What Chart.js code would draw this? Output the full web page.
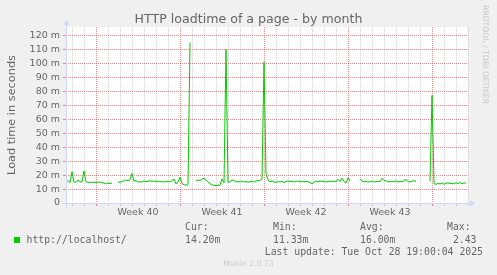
<!DOCTYPE html>
<html lang="en">
<head>
<meta charset="utf-8">
<title>HTTP loadtime of a page - by month</title>
<script src="https://cdn.jsdelivr.net/npm/chart.js@4.4.0/dist/chart.umd.min.js"></script>
<style>
    html, body { margin: 0; padding: 0; background: #F0F0F0; }
    #wrap { position: relative; width: 497px; height: 275px; overflow: hidden;
            font-family: "DejaVu Sans", sans-serif; color: #666; }
    #graph { position: absolute; left: 0; top: 0; }
    .txt { position: absolute; white-space: pre; }
    #title { left: 0; width: 497px; top: 11px; text-align: center; font-size: 12.6px; line-height: 16px; }
    .mono { font-family: "DejaVu Sans Mono", monospace; font-size: 9.8px; line-height: 12px; }
    #swatch { position: absolute; left: 14px; top: 237px; width: 6px; height: 6px; background: #00CC00; }
    #updated { right: 14px; top: 245.5px; }
    #munin { left: 0; width: 497px; text-align: center; top: 259px; font-size: 7.7px; line-height: 10px; color: #c8c8c8; }
    #rrd { left: 480px; top: 5px; writing-mode: vertical-rl; font-size: 7.7px; line-height: 10px; color: #c8c8c8; }
</style>
</head>
<body>
<div id="wrap">
    <canvas id="graph" width="497" height="275"></canvas>
    <div class="txt" id="title"></div>
    <div id="swatch"></div>
    <div id="legend"></div>
    <div class="txt mono" id="updated"></div>
    <div class="txt" id="munin"></div>
    <div class="txt" id="rrd"></div>
</div>

<script>
    /* data (values in milliseconds, one sample every 4 hours) */
    const graphTitle = "HTTP loadtime of a page - by month";
    const yTitle = "Load time in seconds";
    const seriesName = "http://localhost/";
    const startDay = -2.5;      // left edge, in days from the start of week 40
    const endDay = 31;
    const sampleHours = 4;
    const weekStarts = [0, 7, 14, 21, 28];
    const weekLabels = ["Week 40", "Week 41", "Week 42", "Week 43"];
    const yMax = 126;
    const loadtime = [
        15.0, 16.0, 14.6, 22.4, 15.0, 14.8,
        16.5, 15.2, 15.0, 23.0, 15.2, 14.8,
        14.7, 15.0, 14.6, 14.9, 14.8, 15.1,
        14.5, 14.2, 13.6, 14.4, 13.8, 14.5,
        null, null, 15.0, 14.8, 15.6, 15.8,
        16.5, 16.0, 16.8, 21.2, 15.5, 16.2,
        14.8, 15.4, 15.0, 15.8, 15.2, 15.5,
        16.0, 15.4, 15.8, 15.2, 15.6, 15.0,
        15.4, 15.0, 15.3, 15.6, 15.0, 16.2,
        17.2, 13.6, 15.2, 18.5, 14.0, 13.0,
        12.8, 13.2, 115, null, null, 16.0,
        16.5, 16.0, 17.2, 17.7, 16.4, 15.0,
        13.8, 13.0, 12.6, 12.5, 12.6, 12.8,
        17.2, 14.5, 110, 14.8, 15.2, 16.5,
        16.0, 15.0, 15.4, 15.2, 15.6, 15.0,
        15.4, 14.8, 15.2, 15.6, 15.0, 15.8,
        16.0, 16.2, 17.0, 101, 21.2, 16.5,
        15.2, 16.0, 15.0, 14.8, 15.4, 15.0,
        15.6, 14.6, 15.4, 15.8, 15.2, 15.6,
        15.0, 15.8, 15.4, 15.2, 15.6, 15.0,
        15.4, 15.2, 14.8, 13.6, 15.0, 15.6,
        15.2, 15.8, 15.4, 15.6, 15.0, 15.4,
        15.6, 15.2, 15.8, 15.0, 17.0, 15.4,
        17.8, 15.4, 14.2, 18.0, 15.6, null,
        null, null, null, 17.5, 15.6, 15.2,
        15.4, 15.0, 15.2, 15.6, 15.0, 15.3,
        15.6, 15.2, 17.7, 16.2, 15.8, 15.4,
        15.0, 15.6, 15.2, 15.8, 15.0, 15.4,
        15.2, 16.2, 16.8, 15.4, 15.0, 15.6,
        16.0, 15.2, null, null, null, null,
        null, null, 15.4, 77, 14.0, 13.2,
        14.2, 13.6, 14.4, 13.4, 14.0, 14.6,
        13.8, 14.2, 13.6, 14.4, 14.0, 14.6,
        13.8, 14.4, 14.2, null
    ];
    const statNames = ["Cur:", "Min:", "Avg:", "Max:"];
    const statValues = ["14.20m", "11.33m", "16.00m", " 2.43"];
    const statX = [185, 273, 360, 447];
    const lastUpdate = "Last update: Tue Oct 28 19:00:04 2025";
    const watermark = "Munin 2.0.73";

    const GRID = "rgba(150,150,150,0.4)";
    const MGRID = "rgba(220,60,60,0.6)";
    const AXIS = "#CFD6F8";

    document.getElementById("title").textContent = graphTitle;
    document.getElementById("updated").textContent = lastUpdate;
    document.getElementById("munin").textContent = watermark;
    document.getElementById("rrd").textContent = "RRDTOOL / TOBI OETIKER";

    // legend rows below the graph
    const legend = document.getElementById("legend");
    function addText(text, x, y){
        const d = document.createElement("div");
        d.className = "txt mono";
        d.style.left = x + "px";
        d.style.top = y + "px";
        d.textContent = text;
        legend.appendChild(d);
    }
    addText(seriesName, 26.5, 233.5);
    statNames.forEach((n, i) => {
        addText(n, statX[i], 221);
        addText(statValues[i], statX[i], 233.5);
    });

    const points = loadtime.map((v, i) => ({x: startDay + i * sampleHours / 24, y: v}));

    /* white canvas, blue axes with arrows like rrdtool */
    const rrdFrame = {
        id: "rrdFrame",
        beforeDraw(chart){
            const {ctx, chartArea: a} = chart;
            ctx.save();
            ctx.fillStyle = "#FFFFFF";
            ctx.fillRect(a.left, a.top, a.right - a.left, a.bottom - a.top);
            ctx.restore();
        },
        afterDraw(chart){
            const {ctx, chartArea: a} = chart;
            const l = Math.round(a.left) + 0.5, b = Math.round(a.bottom) + 0.5;
            ctx.save();
            ctx.strokeStyle = AXIS;
            ctx.fillStyle = AXIS;
            ctx.lineWidth = 1;
            ctx.beginPath();
            ctx.moveTo(l - 4, b); ctx.lineTo(a.right + 3, b);
            ctx.moveTo(l, b + 4); ctx.lineTo(l, a.top - 3);
            ctx.stroke();
            ctx.beginPath();
            ctx.moveTo(a.right + 2, b - 3); ctx.lineTo(a.right + 7, b); ctx.lineTo(a.right + 2, b + 3);
            ctx.fill();
            ctx.beginPath();
            ctx.moveTo(l - 3, a.top - 2); ctx.lineTo(l, a.top - 7); ctx.lineTo(l + 3, a.top - 2);
            ctx.fill();
            ctx.restore();
        }
    };

    Chart.defaults.font.family = "'DejaVu Sans', sans-serif";
    Chart.defaults.color = "#666";

    let ctx = document.getElementById("graph").getContext("2d");
    let loadChart = new Chart(ctx, {
        type: "line",
        data: {
            datasets: [{
                label: seriesName,
                data: points,
                borderColor: "#00CC00",
                borderWidth: 1,
                pointRadius: 0,
                tension: 0,
                spanGaps: false,
                fill: false
            }]
        },
        options: {
            responsive: false,
            animation: false,
            devicePixelRatio: 1,
            layout: { padding: { left: 0, top: 27, right: 29, bottom: 0 } },
            plugins: { legend: { display: false }, tooltip: { enabled: false } },
            scales: {
                x: {
                    type: "linear",
                    min: startDay,
                    max: endDay,
                    afterBuildTicks(axis){
                        const t = [];
                        for (let d = Math.ceil(startDay); d <= endDay; d++) t.push({value: d});
                        weekLabels.forEach((w, k) => t.push({value: weekStarts[k] + 3.5}));
                        axis.ticks = t.sort((p, q) => p.value - q.value);
                    },
                    afterFit(scale){ scale.height = 72; },
                    ticks: {
                        autoSkip: false,
                        maxRotation: 0,
                        padding: 1,
                        font: { size: 9.5 },
                        callback(v){
                            const k = weekStarts.indexOf(v - 3.5);
                            return k >= 0 && weekLabels[k] ? weekLabels[k] : "";
                        }
                    },
                    grid: {
                        lineWidth: 1,
                        tickLength: 3,
                        color(c){
                            const v = c.tick.value;
                            if (!Number.isInteger(v)) return "rgba(0,0,0,0)";
                            return weekStarts.includes(v) ? MGRID : GRID;
                        }
                    },
                    border: { display: false, dash: [1, 1] }
                },
                y: {
                    min: 0,
                    max: yMax,
                    afterBuildTicks(axis){
                        const t = [];
                        for (let v = 0; v <= yMax; v += 5) t.push({value: v});
                        axis.ticks = t;
                    },
                    afterFit(scale){ scale.width = 66; },
                    ticks: {
                        padding: 3,
                        font: { size: 9.5 },
                        callback(v){
                            if (v % 10 !== 0) return "";
                            return v === 0 ? "0" : v + " m";
                        }
                    },
                    grid: {
                        lineWidth: 1,
                        tickLength: 3,
                        color(c){
                            const v = c.tick.value;
                            if (v === 0) return "rgba(0,0,0,0)";
                            return v % 10 === 0 ? MGRID : GRID;
                        }
                    },
                    border: { display: false, dash: [1, 1] },
                    title: {
                        display: true,
                        text: yTitle,
                        font: { size: 11.3 },
                        padding: { top: 5, bottom: 0 }
                    }
                }
            }
        },
        plugins: [rrdFrame]
    });
</script>
</body>
</html>
